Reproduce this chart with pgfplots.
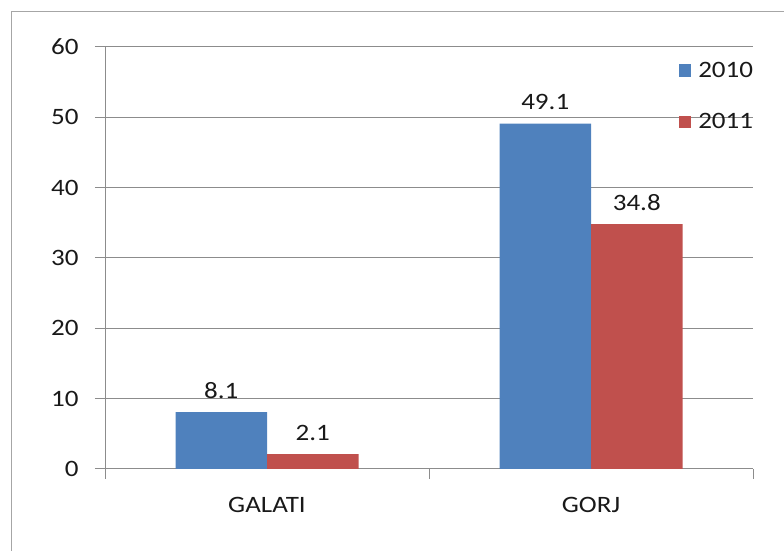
\documentclass[border=0pt]{standalone}
\usepackage{pgfplots}
\pgfplotsset{compat=1.18}
\usepackage{fontspec}
\setmainfont{Carlito}[FakeStretch=1.15]
\definecolor{barblue}{HTML}{4F81BD}
\definecolor{barred}{HTML}{C0504D}
\definecolor{gridgray}{HTML}{8C8C8C}
\definecolor{framegray}{HTML}{A6A6A6}
\newcommand\cf{\fontsize{23.5}{28}\selectfont}
\begin{document}
\begin{tikzpicture}
\path[use as bounding box] (0,0) rectangle (784pt,551pt);
\draw[framegray, line width=1.2pt] (11.5pt,-5pt) |- (790pt,539.5pt);
\begin{axis}[
    at={(105pt,82pt)}, anchor=south west,
    scale only axis, width=648pt, height=422pt,
    xmin=-0.5, xmax=1.5, ymin=0, ymax=60,
    ytick={0,10,...,60},
    xtick={-0.5,0.5,1.5}, xticklabels={GALATI,GORJ},
    x tick label as interval,
    axis x line*=bottom, axis y line*=left,
    axis line style={gridgray, line width=1pt, -},
    ymajorgrids, grid style={gridgray, line width=1pt},
    tick align=outside, major tick length=10pt,
    tick style={gridgray, line width=1pt},
    /pgf/number format/assume math mode=true,
    tick label style={font=\cf, text=black!90},
    yticklabel style={xshift=-13pt},
    xticklabel style={yshift=-15pt},
    ybar=0pt, bar width=91.5pt,
    nodes near coords,
    nodes near coords style={font=\cf, text=black!90, anchor=south, yshift=10pt},
    legend style={draw=none, fill=none, at={(0.885,0.97)}, anchor=north west,
                  font=\cf, text=black!90, row sep=31pt, inner sep=0pt,
                  cells={anchor=west}},
    legend image code/.code={\fill[#1, draw=none] (0pt,-6.3pt) rectangle (12.6pt,6.3pt);},
  ]
\addplot[fill=barblue, draw=none] coordinates {(0,8.1) (1,49.1)};
\addlegendentry{\hspace{5pt}2010}
\addplot[fill=barred, draw=none] coordinates {(0,2.1) (1,34.8)};
\addlegendentry{\hspace{5pt}2011}
\end{axis}
\end{tikzpicture}
\end{document}
